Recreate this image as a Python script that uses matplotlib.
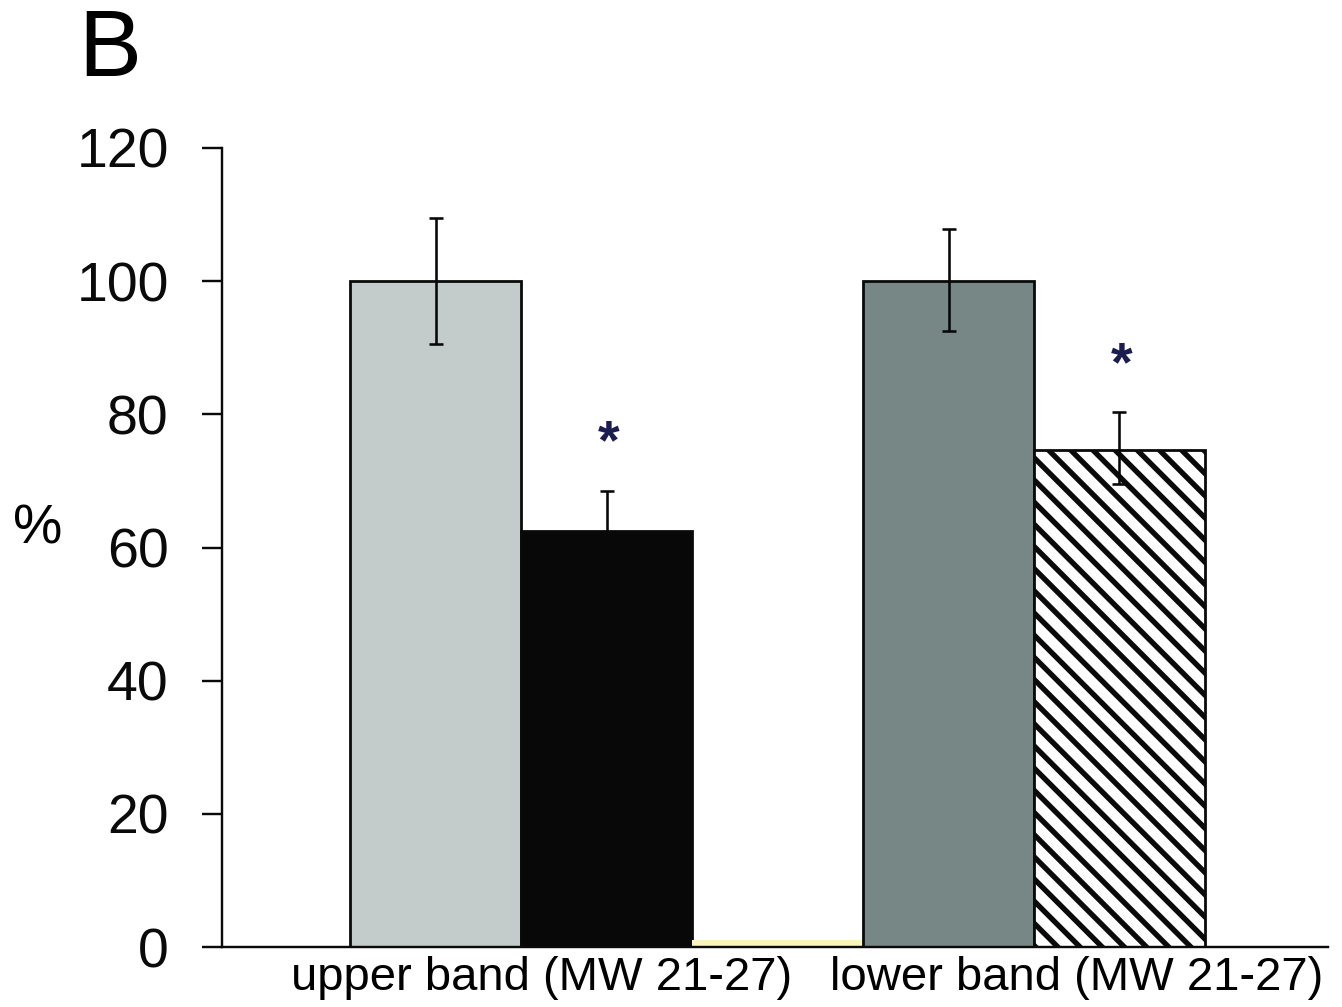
import matplotlib
matplotlib.use("Agg")
import matplotlib.pyplot as plt

# ---- data ----
bar_labels = ["upper band ctrl", "upper band treated", "spacer", "lower band ctrl", "lower band treated"]
bar_values = [100.0, 62.5, 1.0, 100.0, 74.6]
bar_err_low = [9.5, 6.0, 0.0, 7.5, 5.0]
bar_err_high = [9.5, 6.0, 0.0, 7.8, 5.7]
significant = [False, True, False, False, True]
group_labels = ["upper band (MW 21-27)", "lower band (MW 21-27)"]
y_ticks = [0, 20, 40, 60, 80, 100, 120]

# ---- style ----
DPI = 133.33
plt.rcParams['font.family'] = ['Liberation Sans', 'DejaVu Sans']
plt.rcParams['hatch.linewidth'] = 2.9

colors = ["#c3cccb", "#080808", "#f8f5bd", "#778786", "#ffffff"]
hatches = [None, None, None, None, "\\\\"]
edges = ["#0a0a0a", "#0a0a0a", "none", "#0a0a0a", "#0a0a0a"]

fig = plt.figure(figsize=(1342 / DPI, 1007 / DPI), dpi=DPI)
ax = fig.add_axes([222 / 1342, 1 - 947 / 1007, (1328 - 222) / 1342, (947 - 148) / 1007])

positions = [1.25 + i for i in range(len(bar_values))]
for i, (x, v) in enumerate(zip(positions, bar_values)):
    ax.bar(x, v, width=1.0, color=colors[i], edgecolor=edges[i], linewidth=1.5,
           hatch=hatches[i], zorder=2)
    if bar_err_high[i] > 0:
        ax.errorbar(x, v, yerr=[[bar_err_low[i]], [bar_err_high[i]]], fmt='none',
                    ecolor="#080808", elinewidth=1.4, capsize=3.6, capthick=1.4, zorder=3)
    if significant[i]:
        ax.annotate("*", xy=(x, v + bar_err_high[i]), xytext=(1, 25), textcoords='offset points',
                    ha='center', va='center', fontsize=30, fontweight='bold', color="#1b1c50")

ax.set_xlim(0, 6.47)
ax.set_ylim(0, 120)
ax.set_yticks(y_ticks)
ax.set_yticklabels([str(t) for t in y_ticks], fontsize=30)
ax.tick_params(axis='y', direction='out', length=10.8, width=1.3, pad=18, colors="#0a0a0a")
ax.set_xticks([1.87, 5.0])
ax.set_xticklabels(group_labels, fontsize=25.5)
ax.tick_params(axis='x', length=0, pad=5)

for s in ['top', 'right']:
    ax.spines[s].set_visible(False)
for s in ['left', 'bottom']:
    ax.spines[s].set_linewidth(1.3)
    ax.spines[s].set_color("#0a0a0a")

fig.text(38 / 1342, 1 - 530 / 1007, "%", fontsize=30, ha='center', va='center')
fig.text(78 / 1342, 1 - 52 / 1007, "B", fontsize=51, ha='left', va='center')

fig.savefig("out.png", dpi=DPI)
